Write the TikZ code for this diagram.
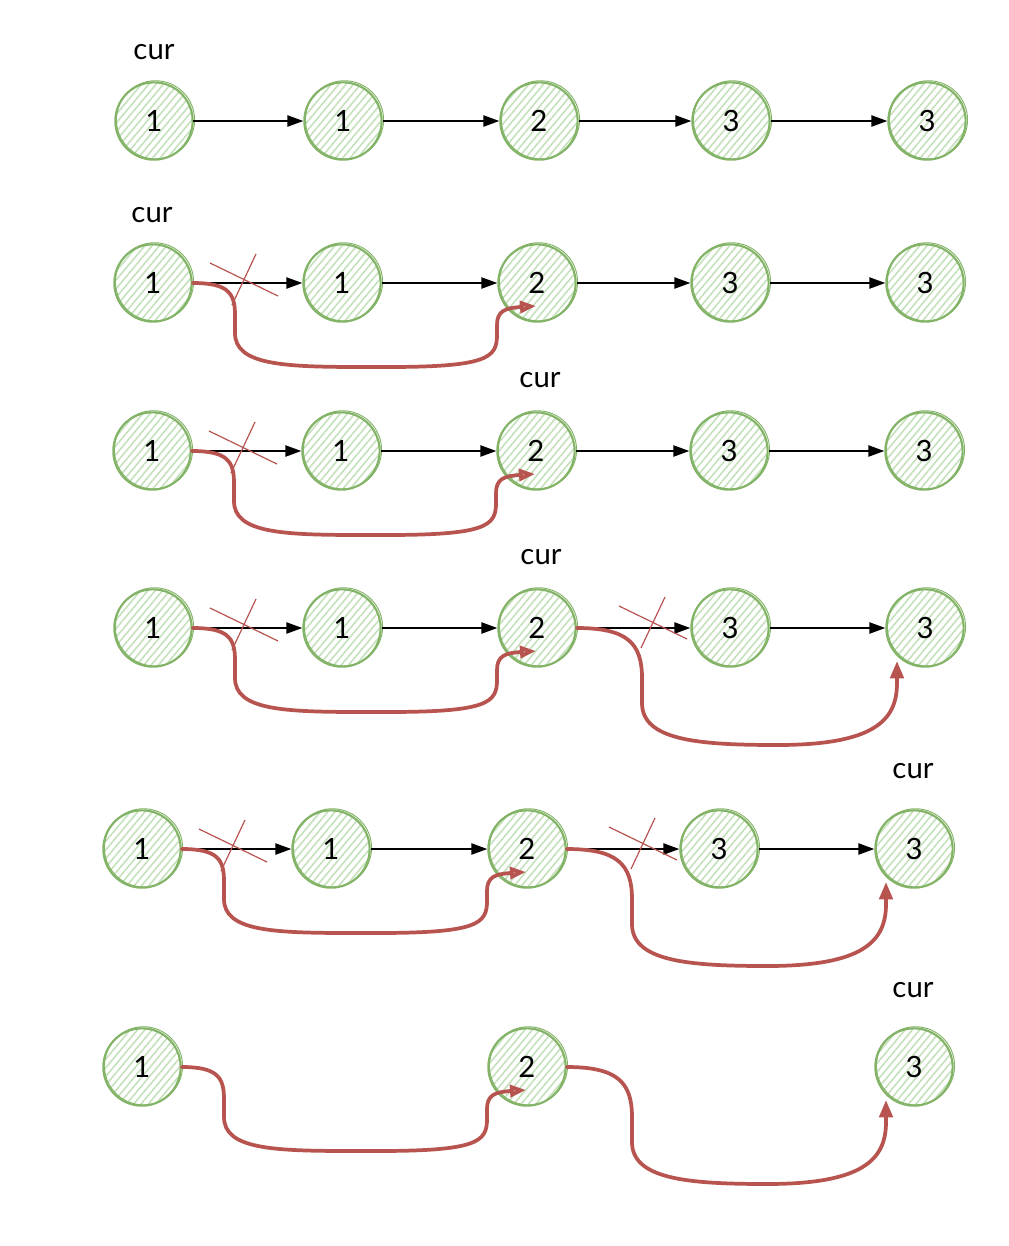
\documentclass[tikz,border=0pt]{standalone}
\usepackage{fontspec}
\setmainfont{Lato}
\usetikzlibrary{arrows.meta,patterns.meta,calc}
\definecolor{gnode}{HTML}{82B366}
\definecolor{gfill}{HTML}{C4E1BB}
\definecolor{redc}{HTML}{B85450}
\tikzset{
  lnode/.style={circle, draw=gnode, line width=1.6pt, minimum size=58pt, inner sep=0pt,
    pattern={Lines[angle=50,distance=4.2pt,line width=1.2pt]}, pattern color=gfill,
    font=\fontsize{22}{26}\selectfont},
  curlbl/.style={font=\fontsize{22}{26}\selectfont, inner sep=0pt},
  blk/.style={line width=1.1pt, -{Triangle[length=12pt,width=8.5pt]}},
  redl/.style={draw=redc, line width=2.8pt, line cap=round},
  redarr/.style={redl, -{Triangle[length=13pt,width=10pt]}},
  redhatch/.style={redl, -{Triangle[length=12pt,width=9pt,fill=redc!55]}},
  xmark/.style={draw=redc, line width=0.9pt},
  skline/.style={draw=gnode, line width=0.7pt},
}
% red skip connector A -> C (under the row)
\newcommand\skipAC[2]{%
  \draw[redhatch] (#1.east) .. controls ($(#1)+(75,0)$) and ($(#1)+(82,10)$) .. ($(#1)+(82,32)$)
    -- ($(#1)+(82,50)$) .. controls ($(#1)+(82,82)$) and ($(#1)+(130,84)$) .. ($(#1)+(210,84)$)
    -- ($(#2)+(-150,84)$) .. controls ($(#2)+(-50,84)$) and ($(#2)+(-40,75)$) .. ($(#2)+(-40,52)$)
    -- ($(#2)+(-40,42)$) .. controls ($(#2)+(-40,28)$) and ($(#2)+(-32,25)$) .. ($(#2)+(-1,23)$);}
% red skip connector C -> E
\newcommand\skipCE[2]{%
  \draw[redarr] (#1.east) .. controls ($(#1)+(90,0)$) and ($(#1)+(105,15)$) .. ($(#1)+(105,50)$)
    -- ($(#1)+(105,75)$) .. controls ($(#1)+(105,112)$) and ($(#1)+(160,117)$) .. ($(#1)+(240,117)$)
    .. controls ($(#2)+(-50,117)$) and ($(#2)+(-28,92)$) .. ($(#2)+(-28,55)$)
    -- ($(#2)+(-28,33)$);}
\newcommand\crossAt[2]{%
  \draw[xmark] ($(#1)+(#2)+(-35,-18)$) -- ($(#1)+(#2)+(33,15)$);
  \draw[xmark] ($(#1)+(#2)+(11,-27)$) -- ($(#1)+(#2)+(-13,24)$);}
\newcommand\sk[1]{\draw[skline] ($(#1)+(1.5,-1.2)$) circle[radius=29.3pt];}
\begin{document}
\begin{tikzpicture}[x=0.75pt,y=-0.75pt]
\useasboundingbox (0,0) rectangle (1008,1246);
% Row 1
\node[lnode] (r1a) at (154,121) {1};
\node[lnode] (r1b) at (343,121) {1};
\node[lnode] (r1c) at (539,121) {2};
\node[lnode] (r1d) at (731,121) {3};
\node[lnode] (r1e) at (927,121) {3};
\node[curlbl] (cur1) at (154,52) {cur};
% Row 2
\node[lnode] (r2a) at (153,283) {1};
\node[lnode] (r2b) at (342,283) {1};
\node[lnode] (r2c) at (537,283) {2};
\node[lnode] (r2d) at (730,283) {3};
\node[lnode] (r2e) at (925,283) {3};
\node[curlbl] (cur2) at (152,215) {cur};
% Row 3
\node[lnode] (r3a) at (152,451) {1};
\node[lnode] (r3b) at (341,451) {1};
\node[lnode] (r3c) at (536,451) {2};
\node[lnode] (r3d) at (729,451) {3};
\node[lnode] (r3e) at (924,451) {3};
\node[curlbl] (cur3) at (540,380) {cur};
% Row 4
\node[lnode] (r4a) at (153,628) {1};
\node[lnode] (r4b) at (342,628) {1};
\node[lnode] (r4c) at (537,628) {2};
\node[lnode] (r4d) at (730,628) {3};
\node[lnode] (r4e) at (925,628) {3};
\node[curlbl] (cur4) at (541,557) {cur};
% Row 5
\node[lnode] (r5a) at (142,849) {1};
\node[lnode] (r5b) at (331,849) {1};
\node[lnode] (r5c) at (527,849) {2};
\node[lnode] (r5d) at (719,849) {3};
\node[lnode] (r5e) at (914,849) {3};
\node[curlbl] (cur5) at (913,771) {cur};
% Row 6
\node[lnode] (r6a) at (142,1067) {1};
\node[lnode] (r6c) at (527,1067) {2};
\node[lnode] (r6e) at (914,1067) {3};
\node[curlbl] (cur6) at (913,990) {cur};
% sketchy second strokes
\foreach \n in {r1a,r1b,r1c,r1d,r1e,r2a,r2b,r2c,r2d,r2e,r3a,r3b,r3c,r3d,r3e,
  r4a,r4b,r4c,r4d,r4e,r5a,r5b,r5c,r5d,r5e,r6a,r6c,r6e}{\sk{\n}}
% black arrows
\foreach \r in {1,2,3,4,5}{
  \draw[blk] (r\r a) -- (r\r b);
  \draw[blk] (r\r b) -- (r\r c);
  \draw[blk] (r\r c) -- (r\r d);
  \draw[blk] (r\r d) -- (r\r e);
}
% red skips
\skipAC{r2a}{r2c}
\skipAC{r3a}{r3c}
\skipAC{r4a}{r4c}
\skipAC{r5a}{r5c}
\skipAC{r6a}{r6c}
\skipCE{r4c}{r4e}
\skipCE{r5c}{r5e}
\skipCE{r6c}{r6e}
% crosses
\crossAt{r2a}{92,-2}
\crossAt{r3a}{92,-2}
\crossAt{r4a}{92,-2}
\crossAt{r5a}{92,-2}
\crossAt{r4c}{117,-4}
\crossAt{r5c}{117,-4}
\end{tikzpicture}
\end{document}
